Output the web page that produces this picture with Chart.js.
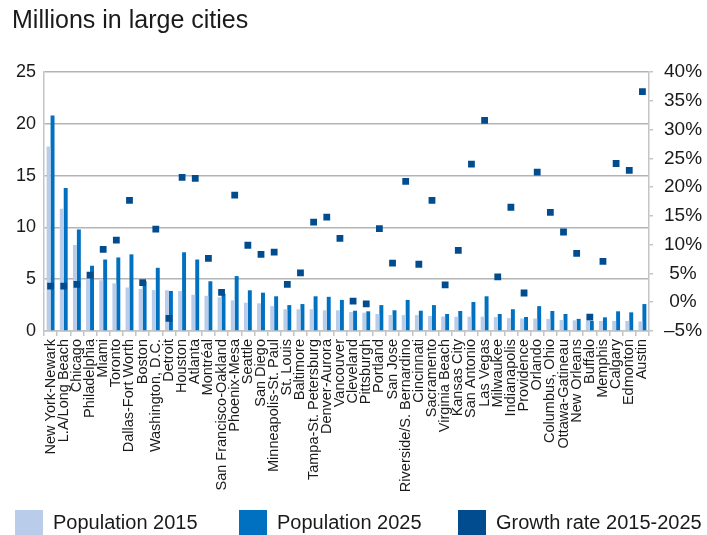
<!DOCTYPE html>
<html>
<head>
<meta charset="utf-8">
<script src="https://cdn.jsdelivr.net/npm/chart.js@4.4.1/dist/chart.umd.min.js"></script>
<style>
  html, body { margin: 0; padding: 0; background: #fff; }
  #wrap { width: 707px; height: 535px; }
</style>
</head>
<body>
<div id="wrap"><canvas id="cityChart" width="707" height="535"></canvas></div>
<script>
'use strict';

// ─── Data ─────────────────────────────────────────────────────
const cities = [
  'New York-Newark', 'L.A/Long Beach', 'Chicago', 'Philadelphia', 'Miami', 'Toronto',
  'Dallas-Fort Worth', 'Boston', 'Washington, D.C.', 'Detroit', 'Houston', 'Atlanta',
  'Montréal', 'San Francisco-Oakland', 'Phoenix-Mesa', 'Seattle', 'San Diego',
  'Minneapolis-St. Paul', 'St. Louis', 'Baltimore', 'Tampa-St. Petersburg', 'Denver-Aurora',
  'Vancouver', 'Cleveland', 'Pittsburgh', 'Portland', 'San Jose', 'Riverside/S. Bernardino',
  'Cincinnati', 'Sacramento', 'Virginia Beach', 'Kansas City', 'San Antonio', 'Las Vegas',
  'Milwaukee', 'Indianapolis', 'Providence', 'Orlando', 'Columbus, Ohio', 'Ottawa-Gatineau',
  'New Orleans', 'Buffalo', 'Memphis', 'Calgary', 'Edmonton', 'Austin'
];

const pop2015 = [
  17.8, 11.8, 8.3, 5.0, 4.9, 4.6, 4.2, 4.05, 3.95, 3.93, 3.86, 3.5, 3.4, 3.25, 2.96, 2.73,
  2.67, 2.4, 2.1, 2.1, 2.1, 2.0, 2.0, 1.83, 1.77, 1.64, 1.54, 1.54, 1.54, 1.45, 1.4, 1.38,
  1.38, 1.38, 1.35, 1.25, 1.2, 1.2, 1.17, 1.06, 1.03, 0.97, 0.97, 0.97, 0.97, 0.93
];

const pop2025 = [
  20.8, 13.8, 9.8, 6.3, 6.9, 7.1, 7.4, 4.8, 6.1, 3.86, 7.6, 6.9, 4.8, 3.6, 5.3, 3.93,
  3.7, 3.35, 2.5, 2.6, 3.35, 3.3, 3.0, 1.96, 1.9, 2.5, 2.0, 3.0, 1.96, 2.5, 1.64, 1.93,
  2.8, 3.35, 1.64, 2.1, 1.35, 2.4, 1.93, 1.64, 1.17, 0.97, 1.32, 1.9, 1.8, 2.6
];

const growthRate = [
  2.8, 2.8, 3.1, 4.7, 9.2, 10.8, 17.7, 3.4, 12.7, -2.8, 21.7, 21.5, 7.6, 1.7, 18.6, 9.9,
  8.3, 8.7, 3.1, 5.1, 13.9, 14.8, 11.1, 0.2, -0.3, 12.8, 6.8, 21.0, 6.6, 17.7, 3.0, 9.0,
  24.0, 31.6, 4.4, 16.5, 1.6, 22.6, 15.6, 12.2, 8.5, -2.6, 7.1, 24.1, 22.9, 36.6
];

const seriesLabels = ['Population 2015', 'Population 2025', 'Growth rate 2015-2025'];
const popTicks     = [0, 5, 10, 15, 20, 25];
const rateTicks    = [-5, 0, 5, 10, 15, 20, 25, 30, 35, 40];
const chartTitle   = 'Millions in large cities';

// ─── Style ────────────────────────────────────────────────────
const FONT       = "'Liberation Sans', Arial, Helvetica, sans-serif";
const TEXT_COLOR = '#1a1a1a';
const GRID_COLOR = '#b4b4b4';
const AXIS_COLOR = '#c4c4c4';
const colors     = ['#b9cdea', '#0070c0', '#004c8e'];

Chart.defaults.font.family = FONT;
Chart.defaults.color = TEXT_COLOR;

// ─── Title + legend drawn on the canvas ───────────────────────
const headerLegend = {
  id: 'headerLegend',
  afterDraw(chart) {
    const ctx = chart.ctx;
    ctx.save();
    ctx.fillStyle = TEXT_COLOR;
    ctx.font = `25px ${FONT}`;
    ctx.textBaseline = 'middle';
    ctx.textAlign = 'left';
    ctx.fillText(chartTitle, 12, 21);

    // legend follows the series order, not the drawing order
    const legendX = [15, 239, 458];
    ctx.font = `20px ${FONT}`;
    seriesLabels.forEach((lbl, i) => {
      const ds = chart.data.datasets.find(d => d.label === lbl);
      ctx.fillStyle = ds.legendColor;
      ctx.fillRect(legendX[i], 510, 28, 25);
      ctx.fillStyle = TEXT_COLOR;
      ctx.fillText(lbl, legendX[i] + 38, 523);
    });
    ctx.restore();
  }
};

function fixedTicks(values) {
  return scale => { scale.ticks = values.map(v => ({ value: v })); };
}

function rateLabel(v) {
  return v < 0 ? '\u2013' + Math.abs(v) + '%' : v + '%';
}

// ─── Chart ────────────────────────────────────────────────────
const ctx = document.getElementById('cityChart');

new Chart(ctx, {
  type: 'bar',
  data: {
    labels: cities,
    datasets: [
      {
        type: 'line',
        label: seriesLabels[2],
        data: growthRate,
        yAxisID: 'y2',
        showLine: false,
        pointStyle: 'rect',
        pointRadius: 4.8,
        pointBorderWidth: 0,
        pointBackgroundColor: colors[2],
        borderColor: colors[2],
        legendColor: colors[2],
        order: 0,
      },
      {
        label: seriesLabels[0],
        data: pop2015,
        yAxisID: 'y',
        backgroundColor: colors[0],
        legendColor: colors[0],
        order: 1,
      },
      {
        label: seriesLabels[1],
        data: pop2025,
        yAxisID: 'y',
        backgroundColor: colors[1],
        legendColor: colors[1],
        order: 1,
      },
    ]
  },
  options: {
    responsive: false,
    animation: false,
    devicePixelRatio: 1,
    layout: { padding: { top: 72, left: 0, right: 0, bottom: 0 } },
    datasets: { bar: { categoryPercentage: 0.6, barPercentage: 1.0 } },
    plugins: {
      legend: { display: false },
      tooltip: { enabled: false },
      title: { display: false },
    },
    scales: {
      x: {
        afterFit: s => { s.height = 204; },
        grid: { drawOnChartArea: false, color: AXIS_COLOR, lineWidth: 1.5, tickLength: 5, offset: true },
        border: { color: AXIS_COLOR, width: 1.5 },
        ticks: { autoSkip: false, minRotation: 90, maxRotation: 90, padding: 3,
                 font: { size: 14.5 }, color: TEXT_COLOR },
      },
      y: {
        position: 'left',
        min: 0, max: 25,
        afterFit: s => { s.width = 44; },
        afterBuildTicks: fixedTicks(popTicks),
        grid: { color: GRID_COLOR, lineWidth: 1.5, drawTicks: false },
        border: { color: AXIS_COLOR, width: 1.5 },
        ticks: { padding: 8, font: { size: 18 }, color: TEXT_COLOR },
      },
      y2: {
        position: 'right',
        min: -5, max: 40,
        afterFit: s => { s.width = 58; },
        afterBuildTicks: fixedTicks(rateTicks),
        grid: { drawOnChartArea: false, color: AXIS_COLOR, lineWidth: 1.5, tickLength: 4 },
        border: { color: AXIS_COLOR, width: 1.5 },
        ticks: { padding: 11, crossAlign: 'center', font: { size: 19 }, color: TEXT_COLOR,
                 callback: v => rateLabel(v) },
      },
    }
  },
  plugins: [headerLegend]
});
</script>
</body>
</html>
